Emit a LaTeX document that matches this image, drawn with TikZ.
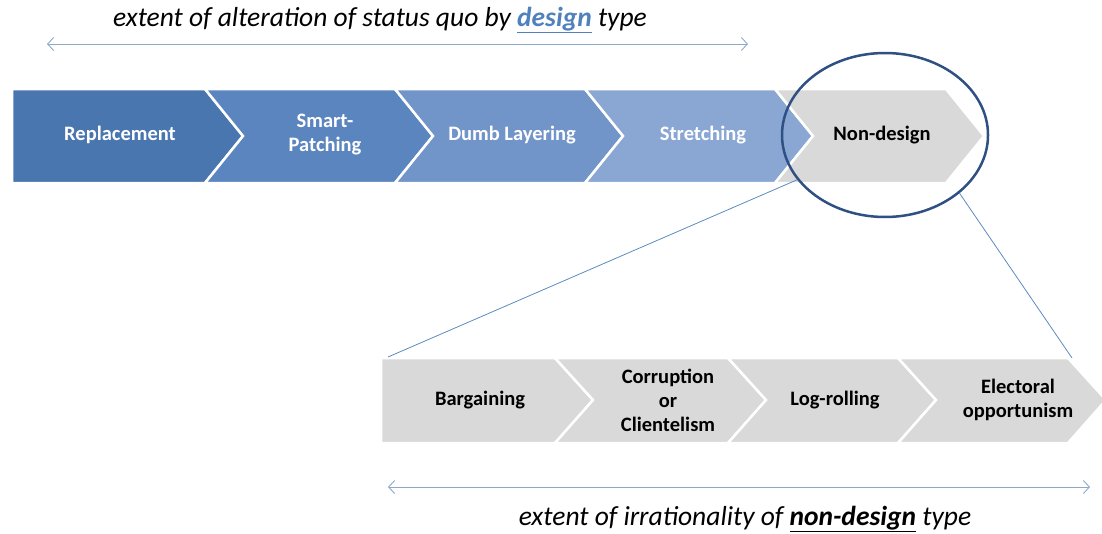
\documentclass[tikz,border=0pt]{standalone}
\usepackage{fontspec}
\setmainfont{Carlito}
\usepackage{tikz}
\usetikzlibrary{shapes.geometric,arrows.meta}

\definecolor{blueA}{RGB}{74,118,176}
\definecolor{blueB}{RGB}{91,133,191}
\definecolor{blueC}{RGB}{113,148,201}
\definecolor{blueD}{RGB}{138,167,211}
\definecolor{greyN}{RGB}{217,217,217}
\definecolor{ringblue}{RGB}{46,80,130}
\definecolor{thinblue}{RGB}{91,139,192}
\definecolor{axisblue}{RGB}{142,169,200}
\definecolor{designblue}{RGB}{79,129,189}

% one chevron piece: fill, left, right, top, middle, bottom, left notch depth
\newcommand{\chevpiece}[7]{%
  \filldraw[chev, fill=#1] (#2,#4) -- (#3,#4) -- (#3+38,#5) -- (#3,#6) -- (#2,#6) -- (#2+#7,#5) -- cycle;}

\begin{document}
\begin{tikzpicture}[x=1pt,y=-1pt,
  chev/.style={draw=white, line width=2.5pt, line join=miter},
  lbl/.style={font=\bfseries\fontsize{20.5}{24}\selectfont, align=center, text=white},
  greylbl/.style={lbl, text=black},
  axis/.style={draw=axisblue, line width=0.9pt, {Straight Barb[length=6pt,width=13pt]}-{Straight Barb[length=6pt,width=13pt]}},
  caption/.style={font=\itshape\fontsize{27.5}{32}\selectfont}]
  \useasboundingbox (0,0) rectangle (1102,533);

  % design types
  \chevpiece{blueA}{12}{205}{89}{136}{183}{0}
  \chevpiece{blueB}{205}{395}{89}{136}{183}{38}
  \chevpiece{blueC}{395}{585}{89}{136}{183}{38}
  \chevpiece{blueD}{585}{775}{89}{136}{183}{38}
  \chevpiece{greyN}{775}{946}{89}{136}{183}{38}
  \node[lbl] (rep) at (120,135) {Replacement};
  \node[lbl] (smart) at (325,135) {Smart-\\Patching};
  \node[lbl] (dumb) at (512,135) {Dumb Layering};
  \node[lbl] (stretch) at (703,135) {Stretching};
  \node[greylbl] (nondes) at (882,135) {Non-design};

  % non-design types
  \chevpiece{greyN}{381}{555}{358}{400}{443}{0}
  \chevpiece{greyN}{555}{728}{358}{400}{443}{38}
  \chevpiece{greyN}{728}{898}{358}{400}{443}{38}
  \chevpiece{greyN}{898}{1068}{358}{400}{443}{38}
  \node[greylbl] (barg) at (480,400) {Bargaining};
  \node[greylbl] (corr) at (668,400) {Corruption\\or\\Clientelism};
  \node[greylbl] (logr) at (835,400) {Log-rolling};
  \node[greylbl] (elec) at (1018,400) {Electoral\\opportunism};

  % zoom ring
  \node[ellipse, draw=ringblue, line width=2.5pt, minimum width=206pt, minimum height=164pt] (lens) at (885,135) {};
  \coordinate (zl) at (388,357);
  \coordinate (zr) at (1072,358);
  \draw[thinblue, line width=0.8pt] (lens.207.5) -- (zl);
  \draw[thinblue, line width=0.8pt] (lens.-38.7) -- (zr);

  % scales
  \coordinate (ta) at (47,44);
  \coordinate (tb) at (748,44);
  \draw[axis] (ta) -- (tb);
  \node[caption] (ttop) at (380,20) {extent of alteration of status quo by \textcolor{designblue}{\underline{\textbf{design}}} type};
  \coordinate (ba) at (388,487);
  \coordinate (bb) at (1090,487);
  \draw[axis] (ba) -- (bb);
  \node[caption] (tbot) at (745,519) {extent of irrationality of \underline{\textbf{non-design}} type};
\end{tikzpicture}
\end{document}
